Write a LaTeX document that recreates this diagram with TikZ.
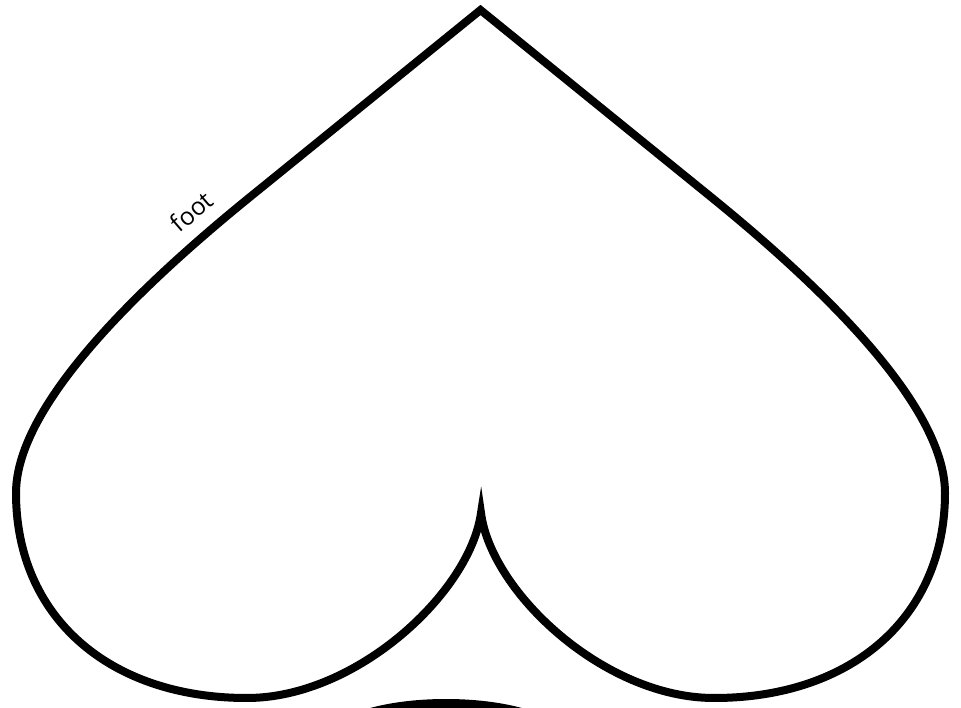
\documentclass[tikz,border=0pt]{standalone}
\usepackage{fontspec}
\newfontfamily\labelfont{Open Sans}
\usepackage{tikz}
\usetikzlibrary{calc}

\begin{document}
\begin{tikzpicture}[
    outline/.style={draw=black, line width=0.08cm, line join=miter, miter limit=12},
    edgelabel/.style={font=\labelfont\fontsize{7}{8.5}\selectfont, inner sep=3.6pt}
  ]
    \useasboundingbox (0,0) rectangle (9.61,7.07);
    \clip (0,0) rectangle (9.61,7.07);

    \coordinate (top) at (4.805,6.97);
    \coordinate (lline) at (2.50,5.10);
    \coordinate (lside) at (0.16,2.14);
    \coordinate (lbot) at (2.47,0.09);
    \coordinate (cusp) at (4.81,1.94);
    \coordinate (rbot) at (7.14,0.09);
    \coordinate (rside) at (9.45,2.14);
    \coordinate (rline) at (7.11,5.10);

    % lobe outline
    \draw[outline] (top) -- (lline)
        .. controls (1.465,4.26) and (0.16,3.04) .. node[edgelabel, pos=0.13, sloped, above] (footlbl) {foot} (lside)
        .. controls (0.16,0.91) and (1.08,0.09) .. (lbot)
        .. controls (3.57,0.09) and (4.70,1.15) .. (cusp)
        .. controls (4.91,1.15) and (6.04,0.09) .. (rbot)
        .. controls (8.53,0.09) and (9.45,0.91) .. (rside)
        .. controls (9.45,3.04) and (8.145,4.26) .. (rline)
        -- cycle;

    \fill[black] (4.46,-0.32) ellipse [x radius=1.2, y radius=0.4];
\end{tikzpicture}
\end{document}
